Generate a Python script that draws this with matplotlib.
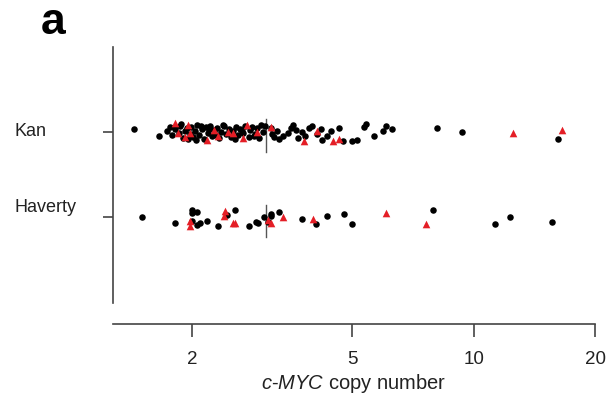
import matplotlib
matplotlib.use("Agg")
import matplotlib.pyplot as plt

plt.rcParams['font.family'] = ['Liberation Sans', 'DejaVu Sans']
plt.rcParams['mathtext.fontset'] = 'custom'
plt.rcParams['mathtext.rm'] = 'Liberation Sans'
plt.rcParams['mathtext.it'] = 'Liberation Sans:italic'

groups = ["Haverty", "Kan"]

# copy number per sample, with vertical strip jitter
kan_dot_cn = [1.43, 1.65, 1.73, 1.76, 1.78, 1.81, 1.85, 1.87, 1.90, 1.92, 1.94, 1.97,
              1.99, 2.01, 2.03, 2.06, 2.08, 2.12, 2.14, 2.17, 2.19, 2.22, 2.24, 2.27,
              2.31, 2.33, 2.36, 2.40, 2.43, 2.47, 2.50, 2.53, 2.57, 2.60, 2.63, 2.68,
              2.71, 2.76, 2.79, 2.82, 2.87, 2.90, 2.93, 2.97, 3.00, 3.13, 3.16, 3.24,
              3.29, 3.37, 3.45, 3.51, 3.55, 3.61, 3.67, 3.75, 3.82, 3.90, 3.96, 4.09,
              4.17, 4.21, 4.33, 4.43, 4.62, 4.73, 5.00, 5.14, 5.33, 5.39, 5.64, 5.94,
              6.04, 6.25, 8.12, 9.33, 16.16,
              1.88, 1.95, 2.04, 2.10, 2.20, 2.29, 2.38, 2.55, 2.66, 2.84, 3.04, 3.20]
kan_dot_jit = [0.035, -0.047, 0.012, 0.058, -0.035, 0.035, -0.012, 0.070, -0.070, 0.012,
               0.047, -0.023, 0.058, -0.058, 0.012, 0.082, -0.035, 0.035, -0.082, 0.058,
               -0.012, 0.070, -0.047, 0.023, 0.047, -0.070, 0.0, 0.070, -0.023, 0.035,
               -0.058, 0.012, 0.058, -0.035, 0.035, -0.012, 0.070, -0.058, 0.023, 0.058,
               -0.023, 0.047, -0.070, 0.082, 0.0, 0.047, -0.023, 0.012, -0.082, -0.047,
               -0.012, 0.047, 0.082, 0.023, -0.070, 0.0, -0.047, 0.047, 0.070, -0.023,
               0.035, -0.094, -0.047, 0.012, 0.047, -0.105, -0.105, -0.094, 0.058, 0.094,
               -0.047, 0.012, 0.070, 0.035, 0.047, 0.0, -0.082,
               0.094, -0.082, -0.094, 0.070, 0.035, -0.035, 0.082, -0.082, 0.012, -0.047,
               0.070, -0.058]
kan_tri_cn = [1.81, 1.84, 1.92, 1.95, 1.97, 2.18, 2.26, 2.32, 2.46, 2.53, 2.68, 2.74,
              2.90, 3.13, 3.80, 4.09, 4.46, 4.64, 12.50, 16.54]
kan_tri_jit = [0.105, -0.012, -0.058, 0.082, -0.012, -0.094, 0.023, -0.047, 0.0, -0.012,
               -0.070, 0.082, 0.0, 0.058, -0.105, 0.012, -0.105, -0.082, -0.012, 0.023]

hav_dot_cn = [1.50, 1.81, 2.00, 2.00, 2.06, 2.00, 2.05, 2.09, 2.18, 2.32, 2.44, 2.56,
              2.76, 2.88, 2.92, 3.02, 3.09, 3.13, 3.14, 3.29, 3.75, 4.05, 4.31, 4.75,
              5.00, 7.94, 11.27, 12.28, 15.62]
hav_dot_jit = [0.006, -0.064, 0.088, 0.053, 0.064, -0.041, -0.088, -0.064, -0.041, -0.099,
               0.029, 0.088, -0.099, -0.053, -0.064, 0.006, -0.053, 0.018, 0.041, 0.064,
               -0.018, -0.076, 0.018, 0.041, -0.076, 0.088, -0.076, 0.006, -0.053]
hav_tri_cn = [1.97, 1.98, 2.41, 2.40, 2.53, 2.56, 3.09, 3.14, 3.37, 3.98, 6.07, 7.63]
hav_tri_jit = [-0.041, -0.099, 0.076, 0.018, -0.064, -0.064, -0.029, -0.064, 0.006, -0.018,
               0.053, -0.076]

medians = [3.05, 3.05]

fig = plt.figure(figsize=(6.06, 4.07), dpi=100)
ax = fig.add_axes([0.1865, 0.2039, 0.7954, 0.6818])

rows = [(1, hav_dot_cn, hav_dot_jit, hav_tri_cn, hav_tri_jit),
        (2, kan_dot_cn, kan_dot_jit, kan_tri_cn, kan_tri_jit)]
for ypos, dcn, djit, tcn, tjit in rows:
    ax.scatter(dcn, [ypos + j for j in djit], s=22, marker='o', color='black',
               linewidths=0, zorder=3)
    ax.scatter(tcn, [ypos + j for j in tjit], s=30, marker='^', color='#e41e26',
               linewidths=0, zorder=4)

for ypos, m in zip([1, 2], medians):
    ax.plot([m, m], [ypos - 0.23, ypos + 0.15], color='#555555', lw=1.0, zorder=2)

ax.set_xscale('log')
ax.set_xlim(1.272, 20)
ax.set_ylim(-0.246, 3.0)
ax.set_xticks([2, 5, 10, 20])
ax.set_xticklabels(['2', '5', '10', '20'])
ax.minorticks_off()
ax.set_yticks([1, 2])
ax.set_yticklabels(['', ''])

for s in ['top', 'right']:
    ax.spines[s].set_visible(False)
ax.spines['left'].set_bounds(0.0, 3.0)
ax.spines['left'].set_color('#444444')
ax.spines['bottom'].set_color('#444444')
ax.spines['left'].set_linewidth(1.2)
ax.spines['bottom'].set_linewidth(1.2)

ax.tick_params(axis='x', length=9.5, width=1.2, color='#444444', pad=10,
               labelsize=13.5, labelcolor='#222222')
ax.tick_params(axis='y', length=7, width=1.2, color='#444444')

ax.set_xlabel(r'$\mathit{c}$-$\mathit{MYC}$ copy number', fontsize=14.5,
              color='#222222', labelpad=3)

fig.text(14 / 606, 0.678, 'Kan', fontsize=13, ha='left', va='center', color='#222222')
fig.text(14 / 606, 0.491, 'Haverty', fontsize=13, ha='left', va='center', color='#222222')
fig.text(53 / 606, 0.945, 'a', fontsize=32, fontweight='bold', ha='center', va='center')

fig.savefig('out.png', dpi=100)
